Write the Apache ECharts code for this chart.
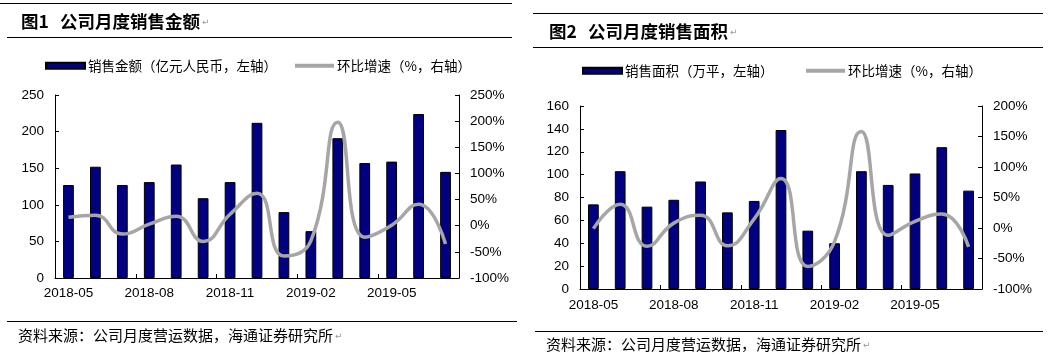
<!DOCTYPE html>
<html>
<head>
<meta charset="utf-8">
<script src="https://cdn.jsdelivr.net/npm/echarts@6/dist/echarts.min.js"></script>
<style>
html,body{margin:0;padding:0;background:#fff;}
#c{width:1048px;height:357px;}
</style>
</head>
<body>
<div id="c"></div>
<script>
// ---- data ----
const months = ['2018-05','2018-06','2018-07','2018-08','2018-09','2018-10','2018-11','2018-12','2019-01','2019-02','2019-03','2019-04','2019-05','2019-06','2019-07'];
const salesAmount = [127,152,127,131,155,109,131,212,90,64,191,157,159,224,145];
const salesAmountMoM = [16,20,-16,3,18,-30,22,62,-58,-29,198,-22,1,41,-35];
const salesArea = [74,103,72,78,94,67,77,139,51,40,103,91,101,124,86];
const salesAreaMoM = [-1,39,-30,8,21,-29,15,81,-63,-22,158,-12,11,23,-31];
const figNo1 = '图1';
const figNo2 = '图2';
const title1 = '公司月度销售金额';
const title2 = '公司月度销售面积';
const legend1Bar = '销售金额（亿元人民币，左轴）';
const legend2Bar = '销售面积（万平，左轴）';
const legendLine = '环比增速（%，右轴）';
const legendLine2 = '环比增速（%，右轴） ';
const sourceText = '资料来源：公司月度营运数据，海通证券研究所';

const NUM_FONT = '"Liberation Sans", Arial, sans-serif';
const CJK_FONT = '"Noto Sans CJK SC", sans-serif';
const BAR_COLOR = '#000080';
const LINE_COLOR = '#A6A6A6';

const chart = echarts.init(document.getElementById('c'), null, {renderer: 'canvas'});

function xAxis(gridIndex, margin) {
  return {
    type: 'category', gridIndex: gridIndex, data: months,
    axisLine: {lineStyle: {color: '#000', width: 1}},
    axisTick: {show: true, inside: true, length: 4, interval: 2, lineStyle: {color: '#000'}},
    axisLabel: {interval: 2, color: '#000', fontFamily: NUM_FONT, fontSize: 13.5, margin: margin},
    splitLine: {show: false}
  };
}
function yAxis(gridIndex, pos, min, max, interval, pct) {
  return {
    type: 'value', gridIndex: gridIndex, position: pos, min: min, max: max, interval: interval,
    axisLine: {show: true, lineStyle: {color: '#000', width: 1}},
    axisTick: {show: true, inside: true, length: 4, lineStyle: {color: '#000'}},
    axisLabel: {color: '#000', fontFamily: NUM_FONT, fontSize: 13.5, margin: 11,
      formatter: pct ? '{value}%' : '{value}'},
    splitLine: {show: false}
  };
}
function legend(name, left, top, isLine) {
  return {
    data: [isLine ? {name: name, icon: 'rect', itemStyle: {color: LINE_COLOR, borderWidth: 0}} : {name: name, icon: 'rect'}],
    left: left, top: top, itemWidth: 39, itemHeight: isLine ? 4 : 6, itemGap: 0,
    textStyle: {fontFamily: CJK_FONT, fontSize: 13.5, color: '#000', padding: [0,0,0,-2]},
    padding: 0, selectedMode: false
  };
}
function hline(x1, x2, y) {
  return {type: 'line', shape: {x1: x1, y1: y, x2: x2, y2: y}, style: {stroke: '#000', lineWidth: 1}, silent: true};
}
function txt(x, y, main, size, bold, mark) {
  return {
    type: 'text', x: x, y: y, silent: true,
    style: {
      text: '{a|' + main + '}' + (mark ? '{b|↵}' : ''),
      verticalAlign: 'middle',
      rich: {
        a: {fontFamily: CJK_FONT, fontSize: size, fontWeight: bold ? 'bold' : 'normal', fill: '#000'},
        b: {fontFamily: '"DejaVu Sans", sans-serif', fontSize: 9, fill: '#999', padding: [4,0,0,2]}
      }
    }
  };
}

const option = {
  animation: false,
  backgroundColor: '#fff',
  grid: [
    {left: 55, top: 95, width: 404, height: 183},
    {left: 580, top: 106, width: 402, height: 183}
  ],
  xAxis: [xAxis(0, 8), xAxis(1, 9)],
  yAxis: [
    yAxis(0, 'left', 0, 250, 50, false),
    yAxis(0, 'right', -100, 250, 50, true),
    yAxis(1, 'left', 0, 160, 20, false),
    yAxis(1, 'right', -100, 200, 50, true)
  ],
  legend: [
    legend(legend1Bar, 45, 59, false),
    legend(legendLine, 295, 59, true),
    legend(legend2Bar, 582, 64, false),
    legend(legendLine2, 806, 64, true)
  ],
  series: [
    {name: legend1Bar, type: 'bar', xAxisIndex: 0, yAxisIndex: 0, data: salesAmount, barWidth: '40%',
      itemStyle: {color: BAR_COLOR, borderColor: '#000', borderWidth: 1}},
    {name: legendLine, type: 'line', xAxisIndex: 0, yAxisIndex: 1, data: salesAmountMoM, smooth: 0.5,
      symbol: 'none', lineStyle: {color: LINE_COLOR, width: 3.5}, itemStyle: {color: LINE_COLOR}},
    {name: legend2Bar, type: 'bar', xAxisIndex: 1, yAxisIndex: 2, data: salesArea, barWidth: '40%',
      itemStyle: {color: BAR_COLOR, borderColor: '#000', borderWidth: 1}},
    {name: legendLine2, type: 'line', xAxisIndex: 1, yAxisIndex: 3, data: salesAreaMoM, smooth: 0.5,
      symbol: 'none', lineStyle: {color: LINE_COLOR, width: 3.5}, itemStyle: {color: LINE_COLOR}}
  ],
  graphic: [
    hline(0, 512, 3.5),
    hline(7, 512, 37.5),
    hline(533, 1043, 13.5),
    hline(533, 1043, 47.5),
    hline(7, 517, 321.5),
    hline(535, 1043, 331.5),
    txt(21, 21, figNo1, 17.5, true, false),
    txt(60, 21, title1, 17.5, true, true),
    txt(549, 31, figNo2, 17.5, true, false),
    txt(588, 31, title2, 17.5, true, true),
    txt(18, 335, sourceText, 15, false, true),
    txt(546, 344, sourceText, 15, false, true)
  ]
};
chart.setOption(option);
</script>
</body>
</html>
